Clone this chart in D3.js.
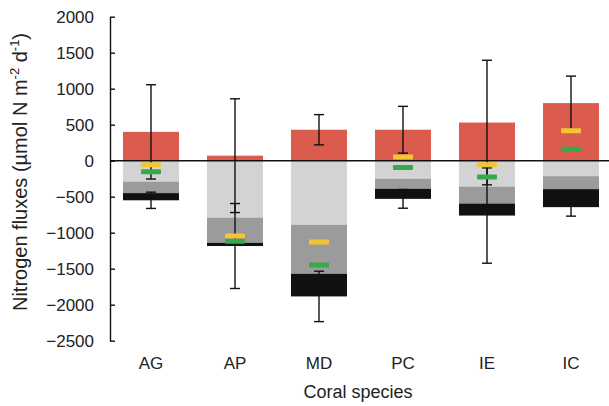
<!DOCTYPE html>
<html>
<head>
<meta charset="utf-8">
<script src="https://cdn.jsdelivr.net/npm/d3@7"></script>
<style>
    body { margin: 0; background: #fff; }
    svg { display: block; font-family: "Liberation Sans", Arial, sans-serif; }
</style>
</head>
<body>
<svg id="chart" width="609" height="406"></svg>
<script>
// values (umol N m-2 d-1)
var species = ['AG', 'AP', 'MD', 'PC', 'IE', 'IC'];
var release = [400, 70, 430, 430, 530, 800];
var releaseErr = [655, 790, 210, 325, 865, 375];
var uptakeLight = [-290, -790, -890, -250, -360, -215];
var uptakeMid = [-160, -350, -680, -140, -235, -180];
var uptakeDark = [-100, -45, -315, -140, -167, -250];
var uptakeErr = [113, 590, 350, 130, 662, 125];
var netYellow = [-55, -1045, -1130, 50, -55, 415];
var netGreen = [-155, -1120, -1450, -95, -225, 160];
var yTicks = [2000, 1500, 1000, 500, 0, -500, -1000, -1500, -2000, -2500];

var colors = {
    release: '#dc5b4f',
    light: '#d3d3d3',
    mid: '#9b9b9b',
    dark: '#111114',
    yellow: '#f5c431',
    green: '#38a84c'
};

var svg = d3.select('#chart');

var x = d3.scaleBand()
    .domain(species)
    .range([109, 613])
    .paddingInner(1 / 3)
    .paddingOuter(1 / 6);

var y = d3.scaleLinear()
    .domain([-2500, 2000])
    .range([340.7, 16.7]);

var rows = species.map(function(s, i) {
    var a = uptakeLight[i], b = uptakeMid[i], c = uptakeDark[i];
    return {
        name: s,
        release: release[i],
        releaseErr: releaseErr[i],
        stack: [
            { y0: 0, y1: a, color: colors.light },
            { y0: a, y1: a + b, color: colors.mid },
            { y0: a + b, y1: a + b + c, color: colors.dark }
        ],
        total: a + b + c,
        totalErr: uptakeErr[i],
        yellow: netYellow[i],
        green: netGreen[i]
    };
});

var g = svg.selectAll('g.species').data(rows).enter()
    .append('g').attr('class', 'species');

// positive part
g.append('rect')
    .attr('x', function(d) { return x(d.name); })
    .attr('width', x.bandwidth())
    .attr('y', function(d) { return y(d.release); })
    .attr('height', function(d) { return y(0) - y(d.release); })
    .attr('fill', colors.release);

// stacked uptake below zero
g.selectAll('rect.part').data(function(d) {
    return d.stack.map(function(p) { return { name: d.name, y0: p.y0, y1: p.y1, color: p.color }; });
}).enter().append('rect')
    .attr('class', 'part')
    .attr('x', function(d) { return x(d.name); })
    .attr('width', x.bandwidth())
    .attr('y', function(d) { return y(d.y0); })
    .attr('height', function(d) { return y(d.y1) - y(d.y0); })
    .attr('fill', function(d) { return d.color; });

// zero line
svg.append('line')
    .attr('x1', 110).attr('x2', 609)
    .attr('y1', y(0)).attr('y2', y(0))
    .attr('stroke', '#111').attr('stroke-width', 1.4);

function errorBar(sel, mid, err) {
    var cap = 5;
    sel.each(function(d) {
        var cx = x(d.name) + x.bandwidth() / 2,
            lo = y(mid(d) - err(d)),
            hi = y(mid(d) + err(d)),
            el = d3.select(this).append('g')
                .attr('stroke', '#111').attr('stroke-width', 1.4);
        el.append('line').attr('x1', cx).attr('x2', cx).attr('y1', lo).attr('y2', hi);
        el.append('line').attr('x1', cx - cap).attr('x2', cx + cap).attr('y1', lo).attr('y2', lo);
        el.append('line').attr('x1', cx - cap).attr('x2', cx + cap).attr('y1', hi).attr('y2', hi);
    });
}

errorBar(g, function(d) { return d.release; }, function(d) { return d.releaseErr; });
errorBar(g, function(d) { return d.total; }, function(d) { return d.totalErr; });

// net flux markers
[['yellow', colors.yellow], ['green', colors.green]].forEach(function(m) {
    g.append('rect')
        .attr('x', function(d) { return x(d.name) + x.bandwidth() / 2 - 10; })
        .attr('y', function(d) { return y(d[m[0]]) - 2.5; })
        .attr('width', 20)
        .attr('height', 5)
        .attr('rx', 1)
        .attr('fill', m[1]);
});

// y axis, ticks pointing inward
var yAxis = d3.axisLeft(y)
    .tickValues(yTicks)
    .tickFormat(d3.format('d'))
    .tickSize(-5)
    .tickSizeOuter(0)
    .tickPadding(16);

var ya = svg.append('g')
    .attr('transform', 'translate(110,0)')
    .call(yAxis);
ya.select('.domain').attr('stroke', '#111').attr('stroke-width', 1.4);
ya.selectAll('.tick line').attr('stroke', '#111').attr('stroke-width', 1.4);
ya.selectAll('.tick text')
    .attr('fill', '#222')
    .style('font-size', '17px');

// category labels
svg.selectAll('text.cat').data(species).enter()
    .append('text')
    .attr('class', 'cat')
    .attr('x', function(d) { return x(d) + x.bandwidth() / 2; })
    .attr('y', 369)
    .attr('text-anchor', 'middle')
    .attr('fill', '#222')
    .style('font-size', '17px')
    .text(function(d) { return d; });

svg.append('text')
    .attr('x', 358)
    .attr('y', 398)
    .attr('text-anchor', 'middle')
    .attr('fill', '#222')
    .style('font-size', '18px')
    .text('Coral species');

var yt = svg.append('text')
    .attr('transform', 'translate(27,172) rotate(-90)')
    .attr('text-anchor', 'middle')
    .attr('fill', '#222')
    .style('font-size', '20px');
yt.append('tspan').text('Nitrogen fluxes (\u00b5mol N m');
yt.append('tspan').attr('dy', -8).style('font-size', '13px').text('-2');
yt.append('tspan').attr('dy', 8).text(' d');
yt.append('tspan').attr('dy', -8).style('font-size', '13px').text('-1');
yt.append('tspan').attr('dy', 8).text(')');
</script>
</body>
</html>
